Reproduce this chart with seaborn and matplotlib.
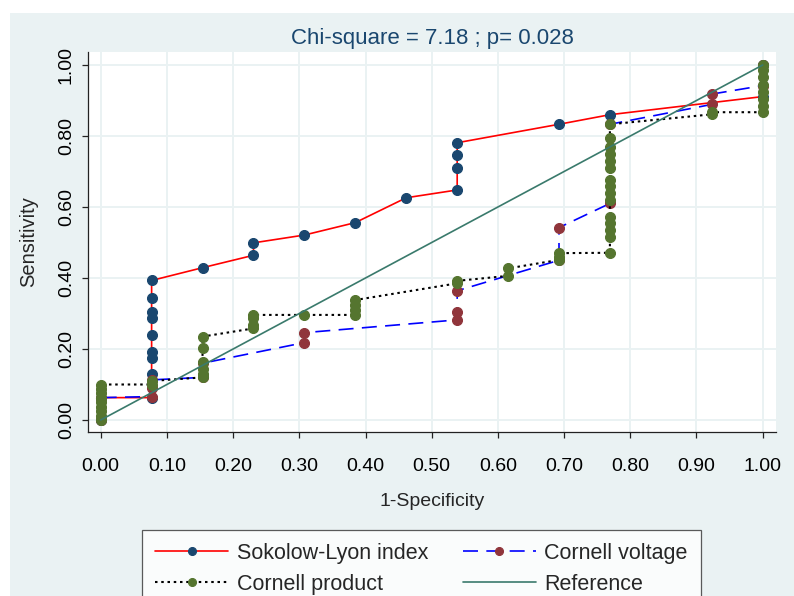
import matplotlib
matplotlib.use("Agg")
import matplotlib.pyplot as plt
from matplotlib.patches import Rectangle
import seaborn as sns

# ---------------- data ----------------
sl_fpr = [0, 0, 0.0769, 0.0769, 0.0769, 0.0769, 0.0769, 0.0769, 0.0769, 0.0769, 0.0769,
          0.1538, 0.2308, 0.2308, 0.3077, 0.3846, 0.4615, 0.5385, 0.5385, 0.5385, 0.5385,
          0.6923, 0.7692, 1.0, 1.0]
sl_sens = [0, 0.063, 0.063, 0.129, 0.174, 0.191, 0.239, 0.288, 0.304, 0.345, 0.393,
           0.429, 0.464, 0.499, 0.521, 0.556, 0.626, 0.648, 0.711, 0.746, 0.781,
           0.833, 0.860, 0.911, 1.0]

cv_fpr = [0, 0, 0.0769, 0.0769, 0.0769, 0.1538, 0.1538, 0.3077, 0.3077, 0.5385, 0.5385,
          0.5385, 0.6923, 0.6923, 0.7692, 0.7692, 0.9231, 0.9231, 1.0, 1.0]
cv_sens = [0, 0.063, 0.066, 0.089, 0.113, 0.120, 0.160, 0.218, 0.246, 0.282, 0.303,
           0.364, 0.450, 0.542, 0.610, 0.833, 0.889, 0.918, 0.942, 1.0]

cp_fpr = [0, 0, 0, 0, 0, 0, 0, 0, 0,
          0.0769, 0.0769,
          0.1538, 0.1538, 0.1538, 0.1538, 0.1538, 0.1538,
          0.2308, 0.2308, 0.2308, 0.2308,
          0.3077,
          0.3846, 0.3846, 0.3846, 0.3846,
          0.5385, 0.5385,
          0.6154, 0.6154,
          0.6923, 0.6923, 0.6923,
          0.7692, 0.7692, 0.7692, 0.7692, 0.7692, 0.7692, 0.7692, 0.7692, 0.7692, 0.7692,
          0.7692, 0.7692, 0.7692, 0.7692, 0.7692,
          0.9231, 0.9231,
          1.0, 1.0, 1.0, 1.0, 1.0, 1.0, 1.0, 1.0]
cp_sens = [0, 0.012, 0.025, 0.037, 0.050, 0.062, 0.075, 0.087, 0.100,
           0.100, 0.110,
           0.120, 0.130, 0.145, 0.164, 0.202, 0.235,
           0.258, 0.267, 0.287, 0.296,
           0.296,
           0.296, 0.310, 0.324, 0.338,
           0.385, 0.392,
           0.406, 0.427,
           0.451, 0.460, 0.470,
           0.471, 0.516, 0.535, 0.555, 0.573, 0.620, 0.640, 0.658, 0.676, 0.709,
           0.730, 0.750, 0.770, 0.793, 0.833,
           0.861, 0.867,
           0.867, 0.885, 0.905, 0.925, 0.945, 0.965, 0.985, 1.0]

ref_x = [0, 1]
ref_y = [0, 1]

x_ticks = [0.0, 0.1, 0.2, 0.3, 0.4, 0.5, 0.6, 0.7, 0.8, 0.9, 1.0]
y_ticks = [0.0, 0.2, 0.4, 0.6, 0.8, 1.0]

title_text = "Chi-square = 7.18 ; p= 0.028"
labels = ["Sokolow-Lyon index", "Cornell voltage", "Cornell product", "Reference"]

# ---------------- style ----------------
sns.set_theme(style="white")
plt.rcParams["font.family"] = ["Liberation Sans", "DejaVu Sans"]

BG = "#EAF2F3"
NAVY = "#1A476F"
MAROON = "#90353B"
GREEN = "#55752F"
TEAL = "#3A7A6C"

fig = plt.figure(figsize=(7.94, 5.96), dpi=100, facecolor="white")
fig.patches.append(Rectangle((10 / 794, 0), 1, 1 - 13 / 596, transform=fig.transFigure,
                             facecolor=BG, edgecolor="none", zorder=-10))
ax = fig.add_axes([88 / 794, 1 - 432 / 596, (776 - 88) / 794, (432 - 52) / 596])
ax.set_facecolor("white")

ms = 7.2
lw = 1.2
sns.lineplot(x=sl_fpr, y=sl_sens, sort=False, estimator=None, ax=ax, color="red", lw=lw,
             marker="o", markersize=ms, markerfacecolor=NAVY, markeredgecolor=NAVY,
             label=labels[0], zorder=3)
sns.lineplot(x=cv_fpr, y=cv_sens, sort=False, estimator=None, ax=ax, color="blue", lw=lw,
             linestyle=(0, (9, 5)), marker="o", markersize=ms, markerfacecolor=MAROON,
             markeredgecolor=MAROON, label=labels[1], zorder=4)
sns.lineplot(x=cp_fpr, y=cp_sens, sort=False, estimator=None, ax=ax, color="black", lw=lw + 0.3,
             linestyle=(0, (1.2, 1.8)), marker="o", markersize=ms, markerfacecolor=GREEN,
             markeredgecolor=GREEN, label=labels[2], zorder=5)
sns.lineplot(x=ref_x, y=ref_y, sort=False, estimator=None, ax=ax, color=TEAL, lw=lw,
             label=labels[3], zorder=6)

ax.set_xlim(-0.0192, 1.0201)
ax.set_ylim(-0.0338, 1.0366)
ax.set_xticks(x_ticks)
ax.set_yticks(y_ticks)
ax.set_xticklabels([f"{v:.2f}" for v in x_ticks])
ax.set_yticklabels([f"{v:.2f}" for v in y_ticks])
ax.grid(True, color=BG, lw=1.4, zorder=0)
ax.set_axisbelow(True)
for s in ["top", "right"]:
    ax.spines[s].set_visible(False)
for s in ["left", "bottom"]:
    ax.spines[s].set_color("#222222")
    ax.spines[s].set_linewidth(0.9)
ax.tick_params(axis="both", which="major", direction="out", length=4.5, width=0.9,
               color="#222222", labelsize=14, labelcolor="black",
               bottom=True, left=True)
ax.tick_params(axis="x", pad=14)
ax.tick_params(axis="y", labelrotation=90, pad=5)
for t in ax.get_yticklabels():
    t.set_va("center")

ax.set_xlabel("1-Specificity", fontsize=14, labelpad=13)
ax.set_ylabel("Sensitivity", fontsize=14.5, labelpad=14)
ax.set_title(title_text, fontsize=16, color=NAVY, pad=6)

handles, _ = ax.get_legend_handles_labels()
ax.get_legend().remove()
order = [0, 2, 1, 3]
leg = fig.legend([handles[i] for i in order], [labels[i] for i in order], ncol=2,
                 loc="upper left", bbox_to_anchor=(142 / 794, 1 - 530 / 596),
                 frameon=True, fancybox=False, fontsize=15.5, handlelength=3.4,
                 numpoints=1, columnspacing=1.6, borderpad=0.6, labelspacing=0.45,
                 handletextpad=0.4, markerscale=0.8, borderaxespad=0)
leg.get_frame().set_edgecolor("#333333")
leg.get_frame().set_linewidth(0.9)
leg.get_frame().set_facecolor("white")

fig.savefig("out.png", dpi=100, facecolor=fig.get_facecolor())
